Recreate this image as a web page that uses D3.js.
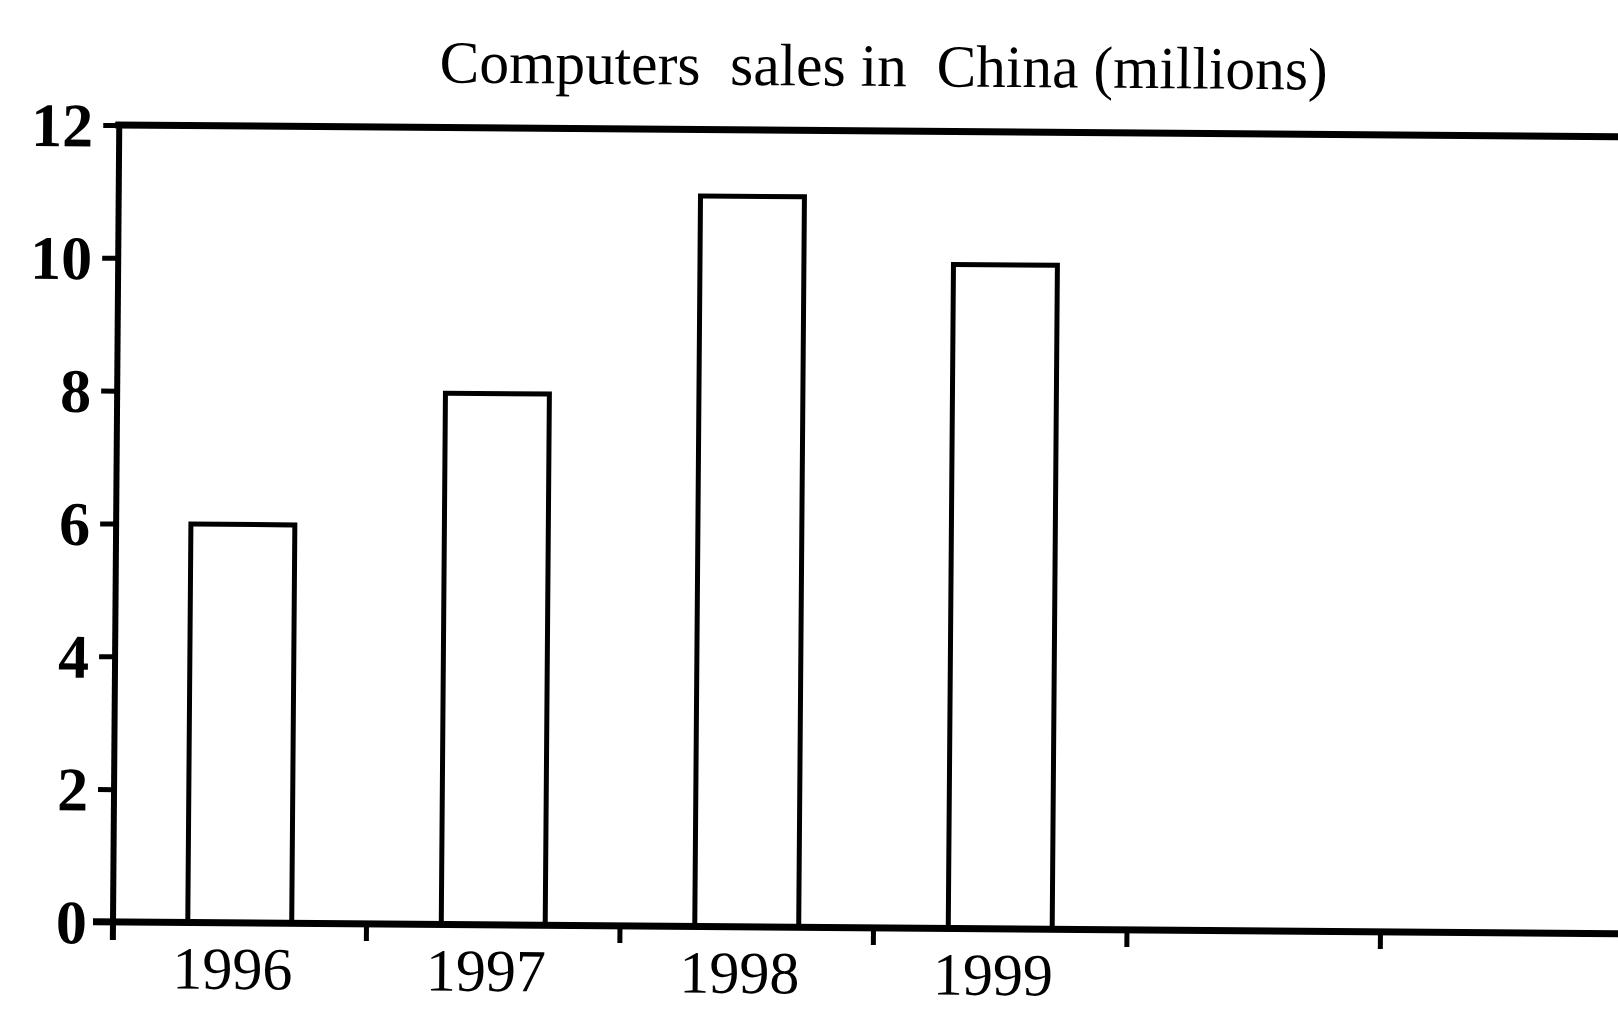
<!DOCTYPE html>
<html>
<head>
<meta charset="utf-8">
<script src="https://cdn.jsdelivr.net/npm/d3@7"></script>
<style>
  body { margin: 0; background: #fff; }
  svg { display: block; }
  text { font-family: 'Liberation Serif', 'Times New Roman', serif; fill: #000; }
</style>
</head>
<body>
<svg id="svg" width="1618" height="1011"></svg>
<script>
// years on the x axis (last two slots have no label / no bar)
const years = ['1996', '1997', '1998', '1999', '2000', '2001'];
const tickLabels = ['1996', '1997', '1998', '1999', '', ''];
const sales = [6, 8, 11, 10];
const yTicks = [0, 2, 4, 6, 8, 10, 12];
const title = 'Computers  sales in  China (millions)';

const svg = d3.select('#svg');
const padding = {top: 125, left: 113};
const chartArea = {width: 6 * 253.5, height: 797};

// the scan is a little tilted
const chart = svg.append('g')
    .attr('transform', 'rotate(0.45,' + padding.left + ',' + (padding.top + chartArea.height) + ')');

const yScale = d3.scaleLinear()
    .domain([0, 12])
    .range([chartArea.height, 0]);
const xScale = d3.scaleBand()
    .domain(years)
    .range([0, chartArea.width])
    .paddingInner(0.59)
    .paddingOuter(0.295);

// title
chart.append('text')
    .attr('x', 877)
    .attr('y', 80)
    .attr('text-anchor', 'middle')
    .attr('font-size', 60)
    .attr('textLength', 888)
    .attr('lengthAdjust', 'spacingAndGlyphs')
    .style('white-space', 'pre')
    .text(title);

const plot = chart.append('g')
    .attr('transform', 'translate(' + padding.left + ',' + padding.top + ')');

// top frame line
plot.append('line')
    .attr('x1', -4).attr('x2', 1600)
    .attr('y1', yScale(12)).attr('y2', yScale(12))
    .attr('stroke', '#000').attr('stroke-width', 7);

// bars
plot.selectAll('rect.bar').data(sales)
    .enter()
    .append('rect')
    .classed('bar', true)
    .attr('x', function(d, i) { return xScale(years[i]); })
    .attr('y', function(d) { return yScale(d); })
    .attr('width', xScale.bandwidth())
    .attr('height', function(d) { return chartArea.height - yScale(d); })
    .attr('fill', 'none')
    .attr('stroke', '#000')
    .attr('stroke-width', 5);

// y axis
const yAxis = plot.append('g')
    .call(d3.axisLeft(yScale).tickValues(yTicks).tickSize(16).tickPadding(10).tickSizeOuter(0));
yAxis.select('.domain').remove();
yAxis.append('line')
    .attr('x1', 0).attr('x2', 0)
    .attr('y1', yScale(12) - 3).attr('y2', chartArea.height + 18)
    .attr('stroke', '#000').attr('stroke-width', 6);
yAxis.selectAll('.tick line').attr('stroke', '#000').attr('stroke-width', 5);
yAxis.selectAll('.tick text')
    .attr('font-size', 62)
    .attr('font-weight', 'bold')
    .attr('font-family', 'Liberation Serif')
    .attr('fill', '#000')
    .attr('dy', '0.34em');

// x axis: ticks sit between the slots
const bounds = years.map(function(d) { return xScale(d) - xScale.step() * xScale.paddingInner() / 2; }).slice(1);
const xAxis = plot.append('g')
    .attr('transform', 'translate(0,' + chartArea.height + ')');
xAxis.append('line')
    .attr('x1', -20).attr('x2', 1600)
    .attr('y1', 0).attr('y2', 0)
    .attr('stroke', '#000').attr('stroke-width', 7);
xAxis.selectAll('line.tick').data(bounds)
    .enter()
    .append('line')
    .classed('tick', true)
    .attr('x1', function(d) { return d; }).attr('x2', function(d) { return d; })
    .attr('y1', 0).attr('y2', 17)
    .attr('stroke', '#000').attr('stroke-width', 5);
xAxis.selectAll('text').data(tickLabels)
    .enter()
    .append('text')
    .attr('x', function(d, i) { return xScale(years[i]) + xScale.bandwidth() / 2 - 7; })
    .attr('y', 66)
    .attr('text-anchor', 'middle')
    .attr('font-size', 60)
    .text(function(d) { return d; });
</script>
</body>
</html>
